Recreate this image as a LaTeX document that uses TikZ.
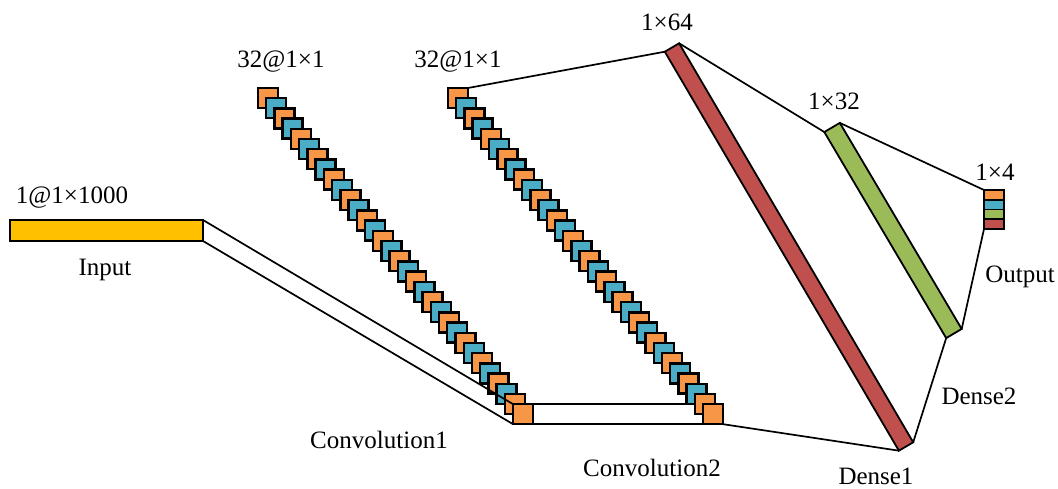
\documentclass[tikz,border=0pt]{standalone}
\usepackage{fontspec}
\setmainfont{Liberation Serif}
\definecolor{cOrange}{HTML}{F79646}
\definecolor{cBlue}{HTML}{4BACC6}
\definecolor{cGreen}{HTML}{9BBB59}
\definecolor{cRed}{HTML}{C0504D}
\definecolor{cGold}{HTML}{FFC000}
\tikzset{
  edge/.style={draw=black, line width=1.7pt},
  fmap/.style={draw=black, line width=2.4pt, minimum size=20pt, inner sep=0pt, outer sep=0pt},
  bar/.style={draw=black, line width=1.8pt, inner sep=0pt, outer sep=0pt},
  cell/.style={bar, minimum width=20pt, minimum height=9.75pt, anchor=north},
  lbl/.style={font=\fontsize{25}{30}\selectfont, inner sep=0pt},
}
\begin{document}
\begin{tikzpicture}[x=1pt, y=-1pt]
\useasboundingbox[fill=white] (0,0) rectangle (1058,489);

% input vector
\node[bar, fill=cGold, minimum width=193pt, minimum height=21pt] (in) at (106.5,230.5) {};

% first convolution: 32 feature maps in a diagonal stack
\foreach \i in {0,...,31}{
  \pgfmathtruncatemacro{\odd}{mod(\i,2)}
  \ifnum\i=31 \def\odd{0}\fi
  \ifnum\odd=0 \def\fc{cOrange}\else\def\fc{cBlue}\fi
  \node[fmap, fill=\fc] (c1-\i) at ({268+8.23*\i},{98+10.2*\i}) {};
}
\draw[edge] (in.north east) -- (c1-31.north west);
\draw[edge] (in.south east) -- (c1-31.south west);

% link between the two convolution stacks
\draw[edge] (c1-31.north east) -- ([xshift=190pt]c1-31.north west);
\draw[edge] (c1-31.south east) -- ([xshift=190pt]c1-31.south west);

% second convolution
\foreach \i in {0,...,31}{
  \pgfmathtruncatemacro{\odd}{mod(\i,2)}
  \ifnum\i=31 \def\odd{0}\fi
  \ifnum\odd=0 \def\fc{cOrange}\else\def\fc{cBlue}\fi
  \node[fmap, fill=\fc] (c2-\i) at ({458+8.23*\i},{98+10.2*\i}) {};
}

% dense layers
\node[bar, fill=cRed, minimum width=462.6pt, minimum height=16.6pt, rotate=-59.6] (d1) at (789,247) {};
\node[bar, fill=cGreen, minimum width=239.4pt, minimum height=18pt, rotate=-59.4] (d2) at (893,230.5) {};

% output vector
\node[cell, fill=cOrange] (o1) at (994,190) {};
\node[cell, fill=cBlue] (o2) at (o1.south) {};
\node[cell, fill=cGreen] (o3) at (o2.south) {};
\node[cell, fill=cRed] (o4) at (o3.south) {};

% connectors
\draw[edge] (c2-0.north east) -- (d1.south west);
\draw[edge] (c2-31.south east) -- (d1.south east);
\draw[edge] (d1.north west) -- (d2.south west);
\draw[edge] (d1.north east) -- (d2.south east);
\draw[edge] (d2.north west) -- (o1.north west);
\draw[edge] (d2.north east) -- (o4.south west);

% labels
\node[lbl] (tin) at (72,198) {1@1×1000};
\node[lbl] (nin) at (105,270) {Input};
\node[lbl] (tc1) at (281,62) {32@1×1};
\node[lbl] (tc2) at (458,62) {32@1×1};
\node[lbl] (td1) at (667,22) {1×64};
\node[lbl] (td2) at (834,101) {1×32};
\node[lbl] (tout) at (995,172) {1×4};
\node[lbl] (nc1) at (379,440) {Convolution1};
\node[lbl] (nc2) at (652,468) {Convolution2};
\node[lbl] (nd1) at (876,476) {Dense1};
\node[lbl] (nd2) at (979,396) {Dense2};
\node[lbl] (nout) at (1020,277) {Output};
\end{tikzpicture}
\end{document}
